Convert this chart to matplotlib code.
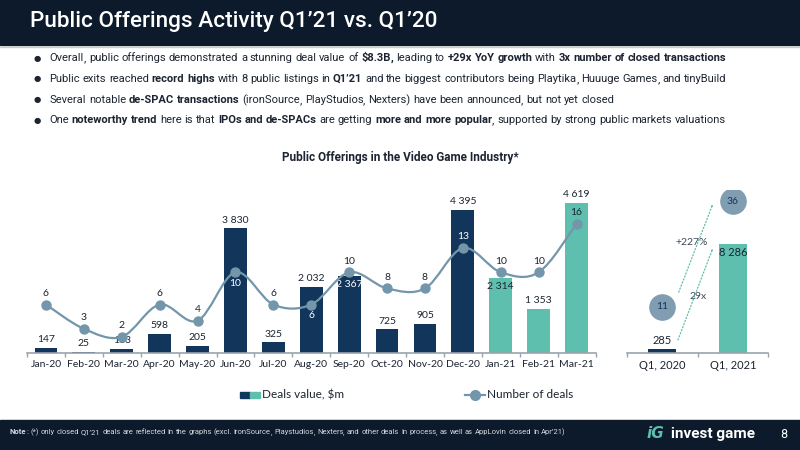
import re
import matplotlib
matplotlib.use("Agg")
import matplotlib.pyplot as plt
from matplotlib.path import Path
from matplotlib.patches import PathPatch, Rectangle, FancyArrowPatch
from matplotlib.lines import Line2D
import numpy as np

# ---- data -------------------------------------------------------------
months = ["Jan-20", "Feb-20", "Mar-20", "Apr-20", "May-20", "Jun-20", "Jul-20",
          "Aug-20", "Sep-20", "Oct-20", "Nov-20", "Dec-20", "Jan-21", "Feb-21", "Mar-21"]
deal_values = [147, 25, 113, 598, 205, 3830, 325, 2032, 2367, 725, 905, 4395, 2314, 1353, 4619]
deal_counts = [6, 3, 2, 6, 4, 10, 6, 6, 10, 8, 8, 13, 10, 10, 16]

quarters = ["Q1, 2020", "Q1, 2021"]
quarter_values = [285, 8286]
quarter_counts = [11, 36]

title = "Public Offerings Activity Q1\u201921 vs. Q1\u201920"
chart_title = "Public Offerings in the Video Game Industry*"
bullets = [
    [("Overall, public offerings demonstrated a stunning deal value of ", False), ("$8.3B,", True),
     (" leading to ", False), ("+29x YoY growth", True), (" with ", False),
     ("3x number of closed transactions", True)],
    [("Public exits reached ", False), ("record highs", True), (" with 8 public listings in ", False),
     ("Q1\u201921", True), (" and the biggest contributors being Playtika, Huuuge Games, and tinyBuild", False)],
    [("Several notable ", False), ("de-SPAC transactions", True),
     (" (ironSource, PlayStudios, Nexters) have been announced, but not yet closed", False)],
    [("One ", False), ("noteworthy trend", True), (" here is that ", False), ("IPOs and de-SPACs", True),
     (" are getting ", False), ("more and more popular", True),
     (", supported by strong public markets valuations", False)],
]
note = [("Note", True), (": (*) only closed Q1\u201921 deals are reflected in the graphs (excl. ironSource, "
        "Playstudios, Nexters, and other deals in process, as well as AppLovin closed in Apr\u201921)", False)]

# ---- style ------------------------------------------------------------
NAVY = "#12355b"
TEAL = "#5fbfae"
LINE = "#7396ab"
BUBBLE = "#809db2"
DARK = "#0c1a2b"
TXT = "#1b2430"
AXIS = "#9aa3ad"
CHART_FONT = "Lato"

W, H = 800, 450
fig = plt.figure(figsize=(8, 4.5), dpi=100)
renderer = fig.canvas.get_renderer()


def box(x0, y0, x1, y1):
    return [x0 / W, 1 - y1 / H, (x1 - x0) / W, (y1 - y0) / H]


def fx(x):
    return x / W


def fy(y):
    return 1 - y / H


def rich_line(x, y, parts, size, color, family="Roboto"):
    # word by word (commas on their own so words keep one baseline); y = baseline px from top
    y = round(y)
    probe = fig.text(0, 0, "a a", fontsize=size, family=family)
    w1 = probe.get_window_extent(renderer).width
    probe.set_text("aa")
    space = w1 - probe.get_window_extent(renderer).width
    probe.remove()
    trailing = False
    for text, bold in parts:
        for i, m in enumerate(re.finditer(r"\s*(?:[^\s,]+|,)", text)):
            chunk = m.group()
            word = chunk.strip()
            if chunk[0].isspace() or (i == 0 and trailing):
                x += space
            t = fig.text(fx(x), fy(y), word, fontsize=size, family=family,
                         fontweight="bold" if bold else "normal", color=color,
                         ha="left", va="baseline")
            x += t.get_window_extent(renderer).width
        trailing = text.endswith(" ")


def smooth_path(xs, ys):
    pts = np.column_stack([xs, ys]).astype(float)
    verts = [pts[0]]
    codes = [Path.MOVETO]
    n = len(pts)
    for i in range(n - 1):
        p0 = pts[max(i - 1, 0)]
        p1, p2 = pts[i], pts[i + 1]
        p3 = pts[min(i + 2, n - 1)]
        verts += [p1 + (p2 - p0) / 6, p2 - (p3 - p1) / 6, p2]
        codes += [Path.CURVE4] * 3
    return Path(verts, codes)


# ---- header / footer --------------------------------------------------
fig.patches.append(Rectangle((0, fy(45)), 1, 45 / H, transform=fig.transFigure, color=DARK, zorder=0))
fig.add_artist(Line2D([0, 1], [fy(46.5), fy(46.5)], color="#c9cdd2", lw=1))
fig.text(fx(30), fy(22), title, fontsize=16.2, family="Roboto", fontweight="medium",
         color="white", va="center")

for i, parts in enumerate(bullets):
    y = 58 + i * 20.7
    fig.text(fx(37), fy(y), "\u25cf", fontsize=6, color=TXT, va="center", ha="center")
    rich_line(49.5, y + 3.2, parts, 8.05, TXT)

fig.text(0.5, fy(157), chart_title, fontsize=8.5, family="Roboto", fontweight="bold",
         color=TXT, ha="center", va="center")

fig.patches.append(Rectangle((0, 0), 1, 30 / H, transform=fig.transFigure, color=DARK, zorder=0))
rich_line(10, 434, note, 5.5, "#d5d9de")
fig.text(fx(647), fy(434), "iG", fontsize=11, family="DejaVu Sans", fontweight="bold",
         style="italic", color=TEAL, va="center")
fig.text(fx(671), fy(434), "invest game", fontsize=11, family="Roboto", fontweight="bold",
         color="white", va="center")
fig.text(fx(784), fy(434), "8", fontsize=9, family="Roboto", color="white", va="center", ha="center")

# ---- monthly chart ----------------------------------------------------
px_per_value = 0.03254
px_per_deal = 8.07
ax = fig.add_axes(box(27, 190, 595.5, 353))
x = np.arange(len(months))
colors = [TEAL if m.endswith("21") else NAVY for m in months]
ax.bar(x, deal_values, width=0.6, color=colors, zorder=2)
ax.set_xlim(-0.5, len(months) - 0.5)
ax.set_ylim(0, 163 / px_per_value)

ax2 = ax.twinx()
ax2.set_ylim(0, 163 / px_per_deal)
ax2.add_patch(PathPatch(smooth_path(x, deal_counts), fill=False, edgecolor=LINE, lw=1.6, zorder=3))
ax2.scatter(x, deal_counts, s=42, color=LINE, zorder=4)

value_inside = {8: "white", 12: TXT}
count_below = {5, 7}
count_white = {5, 7, 11}
for i, (v, c) in enumerate(zip(deal_values, deal_counts)):
    lbl = f"{v:,}".replace(",", " ")
    if i in value_inside:
        ax.annotate(lbl, (i, v), xytext=(0, -6), textcoords="offset points", ha="center",
                    va="center", fontsize=7.5, family=CHART_FONT, color=value_inside[i], zorder=5)
    else:
        ax.annotate(lbl, (i, v), xytext=(0, 6), textcoords="offset points", ha="center",
                    va="center", fontsize=7.5, family=CHART_FONT, color=TXT, zorder=5)
    dy = -8 if i in count_below else 8
    ax2.annotate(str(c), (i, c), xytext=(0, dy), textcoords="offset points", ha="center",
                 va="center", fontsize=7.5, family=CHART_FONT,
                 color="white" if i in count_white else TXT, zorder=5)

for a in (ax, ax2):
    for s in ("top", "left", "right"):
        a.spines[s].set_visible(False)
    a.set_yticks([])
ax2.spines["bottom"].set_visible(False)
ax.spines["bottom"].set_color(AXIS)
ax.spines["bottom"].set_linewidth(1.2)
ax.set_xticks(x)
ax.set_xticklabels(months, fontsize=7.5, family=CHART_FONT, color=TXT)
ax.tick_params(axis="x", length=0, pad=5)
ax.set_xticks(np.arange(-0.5, len(months)), minor=True)
ax.tick_params(axis="x", which="minor", length=3, color=AXIS, width=1)

# ---- quarterly chart --------------------------------------------------
qpx_per_value = 0.01316
qpx_per_deal = 4.22
axr = fig.add_axes(box(626.7, 190, 768.3, 353))
qx = np.arange(len(quarters))
axr.bar(qx, quarter_values, width=0.4, color=[NAVY, TEAL], zorder=2)
axr.set_xlim(-0.5, 1.5)
axr.set_ylim(0, 163 / qpx_per_value)
axr.annotate(f"{quarter_values[0]:,}".replace(",", " "), (0, quarter_values[0]), xytext=(0, 6),
             textcoords="offset points", ha="center", va="center", fontsize=8, family=CHART_FONT, color=TXT)
axr.annotate(f"{quarter_values[1]:,}".replace(",", " "), (1, quarter_values[1]), xytext=(0, -6),
             textcoords="offset points", ha="center", va="center", fontsize=8, family=CHART_FONT, color=TXT)

axr2 = axr.twinx()
axr2.set_ylim(0, 163 / qpx_per_deal)
axr2.scatter(qx, quarter_counts, s=330, color=BUBBLE, zorder=3)
for i, c in enumerate(quarter_counts):
    axr2.text(i, c, str(c), ha="center", va="center", fontsize=7.5, family=CHART_FONT, color=NAVY, zorder=4)

value_growth = quarter_values[1] / quarter_values[0]
count_growth = (quarter_counts[1] / quarter_counts[0] - 1) * 100
arrow_kw = dict(arrowstyle="-|>,head_length=0.5,head_width=0.2", color=TEAL, lw=0.9,
                linestyle=(0, (1, 1.6)), zorder=5)
axr.add_patch(FancyArrowPatch((0.21, 800), (0.73, 8150), **arrow_kw))
axr2.add_patch(FancyArrowPatch((0.22, 13.8), (0.73, 35.9), **arrow_kw))
axr2.text(0.42, 26.3, f"+{count_growth:.0f}%", ha="center", va="center", fontsize=7.5,
          family=CHART_FONT, color="#3c4a57")
axr.text(0.51, 4300, f"{value_growth:.0f}x", ha="center", va="center", fontsize=7.5,
         family=CHART_FONT, color="#3c4a57")

for a in (axr, axr2):
    for s in ("top", "left", "right"):
        a.spines[s].set_visible(False)
    a.set_yticks([])
axr2.spines["bottom"].set_visible(False)
axr.spines["bottom"].set_color(AXIS)
axr.spines["bottom"].set_linewidth(1.2)
axr.set_xticks(qx)
axr.set_xticklabels(quarters, fontsize=8, family=CHART_FONT, color=TXT)
axr.tick_params(axis="x", length=0, pad=5)
axr.set_xticks([-0.5, 0.5, 1.5], minor=True)
axr.tick_params(axis="x", which="minor", length=3, color=AXIS, width=1)

# ---- legend -----------------------------------------------------------
fig.patches.append(Rectangle((fx(240), fy(398)), 10 / W, 6 / H, transform=fig.transFigure, color=NAVY))
fig.patches.append(Rectangle((fx(250), fy(398)), 10 / W, 6 / H, transform=fig.transFigure, color=TEAL))
fig.text(fx(262), fy(395), "Deals value, $m", fontsize=8.5, family=CHART_FONT, color=TXT, va="center")
fig.add_artist(Line2D([fx(465), fx(485)], [fy(395), fy(395)], color=LINE, lw=1.6))
fig.add_artist(Line2D([fx(475)], [fy(395)], marker="o", markersize=7, color=LINE))
fig.text(fx(487), fy(395), "Number of deals", fontsize=8.5, family=CHART_FONT, color=TXT, va="center")

fig.savefig("out.png", dpi=100)
